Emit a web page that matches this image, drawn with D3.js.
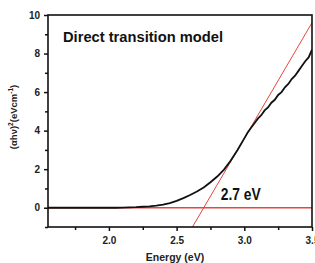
<!DOCTYPE html>
<html>
<head>
<meta charset="utf-8">
<script src="https://cdn.jsdelivr.net/npm/d3@7"></script>
<style>
  body { margin: 0; background: #fff; }
  text { font-family: Arial, "Liberation Sans", sans-serif; font-weight: bold; }
</style>
</head>
<body>
<div id="chart"></div>
<script>
// data
var energy = [1.55, 1.6, 1.7, 1.8, 1.9, 2.0, 2.05, 2.1, 2.15, 2.2, 2.25, 2.3, 2.35, 2.4, 2.45, 2.5,
  2.55, 2.6, 2.65, 2.7, 2.75, 2.8, 2.85, 2.9, 2.95, 3.0, 3.025, 3.05, 3.075, 3.1, 3.125, 3.15,
  3.175, 3.2, 3.225, 3.25, 3.275, 3.3, 3.325, 3.35, 3.375, 3.4, 3.425, 3.45, 3.475, 3.5];
var absorb = [0, 0, 0, 0, 0, 0, 0, 0.005, 0.02, 0.03, 0.05, 0.07, 0.11, 0.16, 0.24, 0.36,
  0.5, 0.66, 0.84, 1.05, 1.32, 1.62, 1.98, 2.45, 3.0, 3.6, 3.9, 4.15, 4.38, 4.62, 4.8, 5.05,
  5.2, 5.45, 5.6, 5.85, 6.0, 6.25, 6.42, 6.68, 6.85, 7.1, 7.35, 7.6, 7.8, 8.2];
var tangent = [[2.617, -1], [3.5, 9.6]];
var onset = 2.7;
var xTicks = [2.0, 2.5, 3.0, 3.5];
var xMinor = [1.75, 2.25, 2.75, 3.25];
var yTicks = [0, 2, 4, 6, 8, 10];
var yMinor = [-1, 1, 3, 5, 7, 9];

var svgWidth = 315;
var svgHeight = 263;
var margin = { top: 15, right: 3, bottom: 36, left: 48 };
var width = svgWidth - margin.left - margin.right;
var height = svgHeight - margin.top - margin.bottom;

var svg = d3.select("#chart").append("svg")
    .attr("width", svgWidth)
    .attr("height", svgHeight);

var chartGroup = svg.append("g")
    .attr("transform", `translate(${margin.left}, ${margin.top})`);

var xScale = d3.scaleLinear().domain([1.55, 3.5]).range([0, width]);
var yScale = d3.scaleLinear().domain([-1, 10]).range([height, 0]);

svg.append("defs").append("clipPath").attr("id", "clip")
  .append("rect").attr("width", width).attr("height", height);

var plot = chartGroup.append("g").attr("clip-path", "url(#clip)");

// baseline y = 0
plot.append("line")
    .attr("x1", 0).attr("x2", width)
    .attr("y1", yScale(0)).attr("y2", yScale(0))
    .attr("stroke", "#e8453c").attr("stroke-width", 1.3);

// tangent
plot.append("path")
    .datum(tangent)
    .attr("fill", "none")
    .attr("stroke", "#e8453c")
    .attr("stroke-width", 1)
    .attr("d", d3.line().x(d => xScale(d[0])).y(d => yScale(d[1])));

// curve
var pts = energy.map((e, i) => [e, absorb[i]]);
plot.append("path")
    .datum(pts)
    .attr("fill", "none")
    .attr("stroke", "#111")
    .attr("stroke-width", 1.8)
    .attr("d", d3.line().x(d => xScale(d[0])).y(d => yScale(d[1])));

// axes
var xAxis = d3.axisBottom(xScale).tickValues(xTicks).tickFormat(d3.format(".1f")).tickSize(4).tickSizeOuter(0);
var yAxis = d3.axisLeft(yScale).tickValues(yTicks).tickFormat(d3.format("d")).tickSize(4).tickSizeOuter(0);

var gx = chartGroup.append("g").attr("transform", `translate(0, ${height})`).call(xAxis);
var gy = chartGroup.append("g").call(yAxis);

chartGroup.append("g").attr("transform", `translate(0, ${height})`)
    .call(d3.axisBottom(xScale).tickValues(xMinor).tickFormat("").tickSize(3).tickSizeOuter(0));
chartGroup.append("g")
    .call(d3.axisLeft(yScale).tickValues(yMinor).tickFormat("").tickSize(3).tickSizeOuter(0));

chartGroup.selectAll(".domain").remove();
chartGroup.selectAll(".tick line").attr("stroke", "#111").attr("stroke-width", 1.5);
gx.selectAll("text").attr("font-size", 10).attr("dy", "0.95em").attr("fill", "#222");
gy.selectAll("text").attr("font-size", 10).attr("dx", "-1px").attr("fill", "#222");

// frame
chartGroup.append("rect")
    .attr("width", width).attr("height", height)
    .attr("fill", "none").attr("stroke", "#111").attr("stroke-width", 1.6);

// labels
chartGroup.append("text")
    .attr("x", 15).attr("y", 27)
    .attr("font-size", 14.5)
    .attr("textLength", 160).attr("lengthAdjust", "spacingAndGlyphs")
    .attr("fill", "#111")
    .text("Direct transition model");

chartGroup.append("text")
    .attr("x", xScale(onset) + 17).attr("y", yScale(0) - 8)
    .attr("font-size", 16)
    .attr("textLength", 40).attr("lengthAdjust", "spacingAndGlyphs")
    .attr("fill", "#111")
    .text(onset + " eV");

svg.append("text")
    .attr("x", 175).attr("y", 261)
    .attr("text-anchor", "middle")
    .attr("font-size", 10.5)
    .attr("fill", "#222")
    .text("Energy (eV)");

var yl = svg.append("text")
    .attr("transform", `translate(17, 117) rotate(-90)`)
    .attr("text-anchor", "middle")
    .attr("font-size", 9.5)
    .attr("fill", "#222");
yl.append("tspan").text("(\u03b1h\u03bd)");
yl.append("tspan").attr("font-size", 6.5).attr("dy", -4).text("2");
yl.append("tspan").attr("dy", 4).text("(eVcm");
yl.append("tspan").attr("font-size", 6.5).attr("dy", -4).text("-1");
yl.append("tspan").attr("dy", 4).text(")");
</script>
</body>
</html>
